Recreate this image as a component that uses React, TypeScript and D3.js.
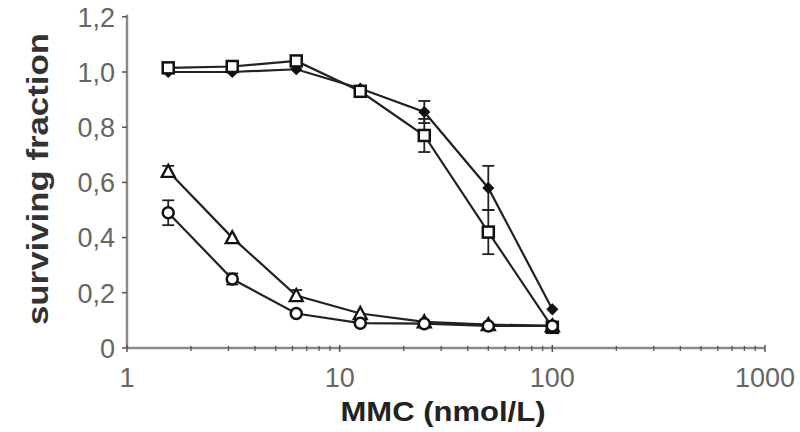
import React from 'react';
import * as d3 from 'd3';

// MMC concentrations (nmol/L), twofold dilutions
const concentrations = [1.5625, 3.125, 6.25, 12.5, 25, 50, 100];

// surviving fraction per series
const filledValues = [1.0, 1.0, 1.01, 0.94, 0.855, 0.58, 0.14];
const filledErrors = [0.01, 0.01, 0.01, 0.01, 0.04, 0.08, 0.01];
const squareValues = [1.015, 1.02, 1.04, 0.93, 0.77, 0.42, 0.075];
const squareErrors = [0.01, 0.01, 0.01, 0.01, 0.06, 0.08, 0.01];
const triangleValues = [0.64, 0.40, 0.19, 0.125, 0.095, 0.085, 0.08];
const triangleErrors = [0.02, 0.01, 0.02, 0.01, 0.01, 0.01, 0.01];
const circleValues = [0.49, 0.25, 0.125, 0.09, 0.088, 0.08, 0.08];
const circleErrors = [0.045, 0.02, 0.01, 0.01, 0.01, 0.01, 0.01];

const yTicks = [0, 0.2, 0.4, 0.6, 0.8, 1.0, 1.2];
const xTicks = [1, 10, 100, 1000];

const series = [
  {name: 'filled', values: filledValues, errors: filledErrors, marker: 'diamond'},
  {name: 'square', values: squareValues, errors: squareErrors, marker: 'square'},
  {name: 'triangle', values: triangleValues, errors: triangleErrors, marker: 'triangle'},
  {name: 'circle', values: circleValues, errors: circleErrors, marker: 'circle'},
];

const font = '"Liberation Sans", Arial, Helvetica, sans-serif';

const yLabel = (v: number) => (v === 0 ? '0' : v.toFixed(1).replace('.', ','));

const Marker = ({kind, x, y}: {kind: string; x: number; y: number}) => {
  const s = 5.5;
  if (kind === 'square')
    return <rect x={x - s} y={y - s} width={2 * s} height={2 * s} fill="#fff" stroke="#111" strokeWidth={2.5} />;
  if (kind === 'circle')
    return <circle cx={x} cy={y} r={s} fill="#fff" stroke="#111" strokeWidth={2.5} />;
  if (kind === 'triangle')
    return <path d={`M${x},${y - s - 1}L${x + s + 1},${y + s}L${x - s - 1},${y + s}Z`} fill="#fff" stroke="#111" strokeWidth={2.3} />;
  return <path d={`M${x},${y - 5}L${x + 5},${y}L${x},${y + 5}L${x - 5},${y}Z`} fill="#111" stroke="#111" strokeWidth={1.5} />;
};

const App = () => {
  const x = d3.scaleLog().domain([1, 1000]).range([127, 765]);
  const y = d3.scaleLinear().domain([0, 1.2]).range([348, 16.8]);
  const line = d3.line<number>().x((_, i) => x(concentrations[i])).y(v => y(v));

  const minor: number[] = [];
  [1, 10, 100].forEach(d => d3.range(2, 10).forEach(k => minor.push(d * k)));

  return (
    <svg width={800} height={432} style={{position: 'absolute', left: 0, top: 0, background: '#fff'}}>
      {/* axes */}
      <line x1={x(1)} x2={x(1)} y1={y(1.2) - 2} y2={y(0)} stroke="#8a8a8a" strokeWidth={2.5} />
      <line x1={x(1)} x2={x(1000)} y1={y(0)} y2={y(0)} stroke="#8a8a8a" strokeWidth={2.5} />
      {yTicks.map(t => (
        <g key={t}>
          <line x1={x(1) - 5} x2={x(1)} y1={y(t)} y2={y(t)} stroke="#555" strokeWidth={1.5} />
          <text x={115} y={y(t)} dy="0.36em" textAnchor="end" fontFamily={font} fontSize={27} fill="#666">
            {yLabel(t)}
          </text>
        </g>
      ))}
      {xTicks.map(t => (
        <g key={t}>
          <line x1={x(t)} x2={x(t)} y1={y(0) - 3} y2={y(0) + 4} stroke="#555" strokeWidth={1.5} />
          <text x={x(t)} y={387} textAnchor="middle" fontFamily={font} fontSize={27} fill="#666">
            {t}
          </text>
        </g>
      ))}
      {minor.map(t => (
        <line key={t} x1={x(t)} x2={x(t)} y1={y(0) - 2} y2={y(0) + 3} stroke="#555" strokeWidth={1.3} />
      ))}
      <text x={443} y={421} textAnchor="middle" fontFamily={font} fontSize={28} fontWeight="bold" fill="#222"
        textLength={205} lengthAdjust="spacingAndGlyphs">
        MMC (nmol/L)
      </text>
      <text
        transform={`translate(48,179) rotate(-90)`}
        textAnchor="middle"
        fontFamily={font}
        fontSize={29}
        fontWeight="bold"
        fill="#333"
        textLength={292}
        lengthAdjust="spacingAndGlyphs"
      >
        surviving fraction
      </text>

      {/* lines */}
      {series.map(s => (
        <path key={s.name} d={line(s.values) || ''} fill="none" stroke="#222" strokeWidth={2.2} />
      ))}
      {/* error bars */}
      {series.map(s =>
        s.values.map((v, i) =>
          s.errors[i] > 0.015 ? (
            <g key={`${s.name}-e${i}`} stroke="#222" strokeWidth={1.8}>
              <line x1={x(concentrations[i])} x2={x(concentrations[i])} y1={y(v + s.errors[i])} y2={y(v - s.errors[i])} />
              <line x1={x(concentrations[i]) - 6} x2={x(concentrations[i]) + 6} y1={y(v + s.errors[i])} y2={y(v + s.errors[i])} />
              <line x1={x(concentrations[i]) - 6} x2={x(concentrations[i]) + 6} y1={y(v - s.errors[i])} y2={y(v - s.errors[i])} />
            </g>
          ) : null
        )
      )}
      {/* markers */}
      {series.map(s =>
        s.values.map((v, i) => <Marker key={`${s.name}-m${i}`} kind={s.marker} x={x(concentrations[i])} y={y(v)} />)
      )}
    </svg>
  );
};

export default App;
